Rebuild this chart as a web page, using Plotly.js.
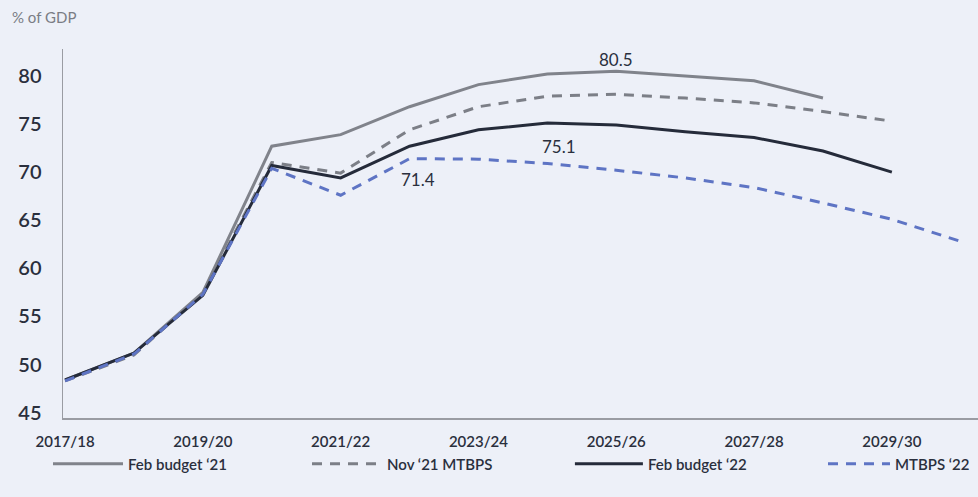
<!DOCTYPE html>
<html>
<head>
<meta charset="utf-8">
<script src="https://cdn.plot.ly/plotly-3.0.1.min.js"></script>
<style>html,body{margin:0;padding:0;background:#edf0f8;}#chart{width:978px;height:497px;}</style>
</head>
<body>
<div id="chart"></div>
<script>
const years = ['2017/18','2018/19','2019/20','2020/21','2021/22','2022/23','2023/24','2024/25','2025/26','2026/27','2027/28','2028/29','2029/30','2030/31'];
const febBudget21 = [48.4, 51.2, 57.5, 72.7, 73.9, 76.8, 79.1, 80.2, 80.5, 80.0, 79.5, 77.7];
const novMTBPS21  = [48.3, 51.0, 57.4, 71.0, 69.9, 74.4, 76.8, 77.9, 78.1, 77.7, 77.2, 76.3, 75.3];
const febBudget22 = [48.4, 51.2, 57.2, 70.7, 69.4, 72.7, 74.4, 75.1, 74.9, 74.2, 73.6, 72.2, 70.0];
const mtbps22     = [48.3, 51.1, 57.3, 70.4, 67.6, 71.4, 71.35, 70.9, 70.2, 69.4, 68.4, 66.8, 65.1, 62.8];
const seriesNames = ['Feb budget \u201821', 'Nov \u201821 MTBPS', 'Feb budget \u201822', 'MTBPS \u201822'];

const lbl = [
  {series: febBudget21, idx: 8, shift: 12},
  {series: febBudget22, idx: 7, shift: -23, xs: 12},
  {series: mtbps22, idx: 5, shift: -21, xs: 8}
];

const legendIds = ['legend', 'legend2', 'legend3', 'legend4'];
function tr(y, name, color, dash, k) {
  return {x: years.slice(0, y.length), y: y, name: name, type: 'scatter', mode: 'lines',
    legend: legendIds[k], line: {color: color, width: 3, dash: dash}};
}
const data = [
  tr(febBudget21, seriesNames[0], '#80838b', 'solid', 0),
  tr(novMTBPS21, seriesNames[1], '#7c7f87', '10px,8px', 1),
  tr(febBudget22, seriesNames[2], '#252b3a', 'solid', 2),
  tr(mtbps22, seriesNames[3], '#5e74c4', '10px,8px', 3)
];

const annotations = lbl.map(l => ({
  x: years[l.idx], y: l.series[l.idx], xref: 'x', yref: 'y', text: String(l.series[l.idx].toFixed(1)),
  showarrow: false, yshift: l.shift, xshift: l.xs || 0,
  font: {family: 'Lato, sans-serif', size: 17, color: '#2a2f3d'}
}));
annotations.push({x: 0, y: 1, xref: 'paper', yref: 'paper', xanchor: 'left', yanchor: 'top', xshift: 10 - 63, yshift: 49 - 6,
  text: '% of GDP', showarrow: false, font: {family: 'Lato, sans-serif', size: 15, color: '#7a7d85'}});

const legendFont = {family: 'Lato, sans-serif', size: 15, color: '#2a2f3d', weight: 600};
function leg(x, w) {
  return {orientation: 'h', x: x, y: -0.08, xanchor: 'left', yanchor: 'top', itemwidth: w,
    bgcolor: 'rgba(0,0,0,0)', font: legendFont};
}

const layout = {
  width: 978, height: 497,
  paper_bgcolor: '#edf0f8', plot_bgcolor: '#edf0f8',
  margin: {l: 63, r: 0, t: 49, b: 79, autoexpand: false},
  showlegend: true,
  legend: leg(-0.0164, 70),
  legend2: leg(0.2667, 70),
  legend3: leg(0.554, 68),
  legend4: leg(0.8306, 62),
  xaxis: {type: 'category', range: [-0.03, 13.25], tickvals: years.filter((_, i) => i % 2 === 0),
    showgrid: false, zeroline: false, showline: true, linecolor: '#9a9ca3', linewidth: 1.5,
    ticks: '', ticklabelstandoff: 9,
    tickfont: {family: 'Lato, sans-serif', size: 15, color: '#2a2f3d', weight: 600}},
  yaxis: {range: [44.45, 82.8], tickvals: [45, 50, 55, 60, 65, 70, 75, 80],
    showgrid: false, zeroline: false, showline: true, linecolor: '#9a9ca3', linewidth: 1.5,
    ticks: '', ticklabelstandoff: 16,
    tickfont: {family: 'Lato, sans-serif', size: 20, color: '#2a2f3d', weight: 600}},
  annotations: annotations
};
Plotly.newPlot('chart', data, layout, {staticPlot: true, displayModeBar: false});
</script>
</body>
</html>
